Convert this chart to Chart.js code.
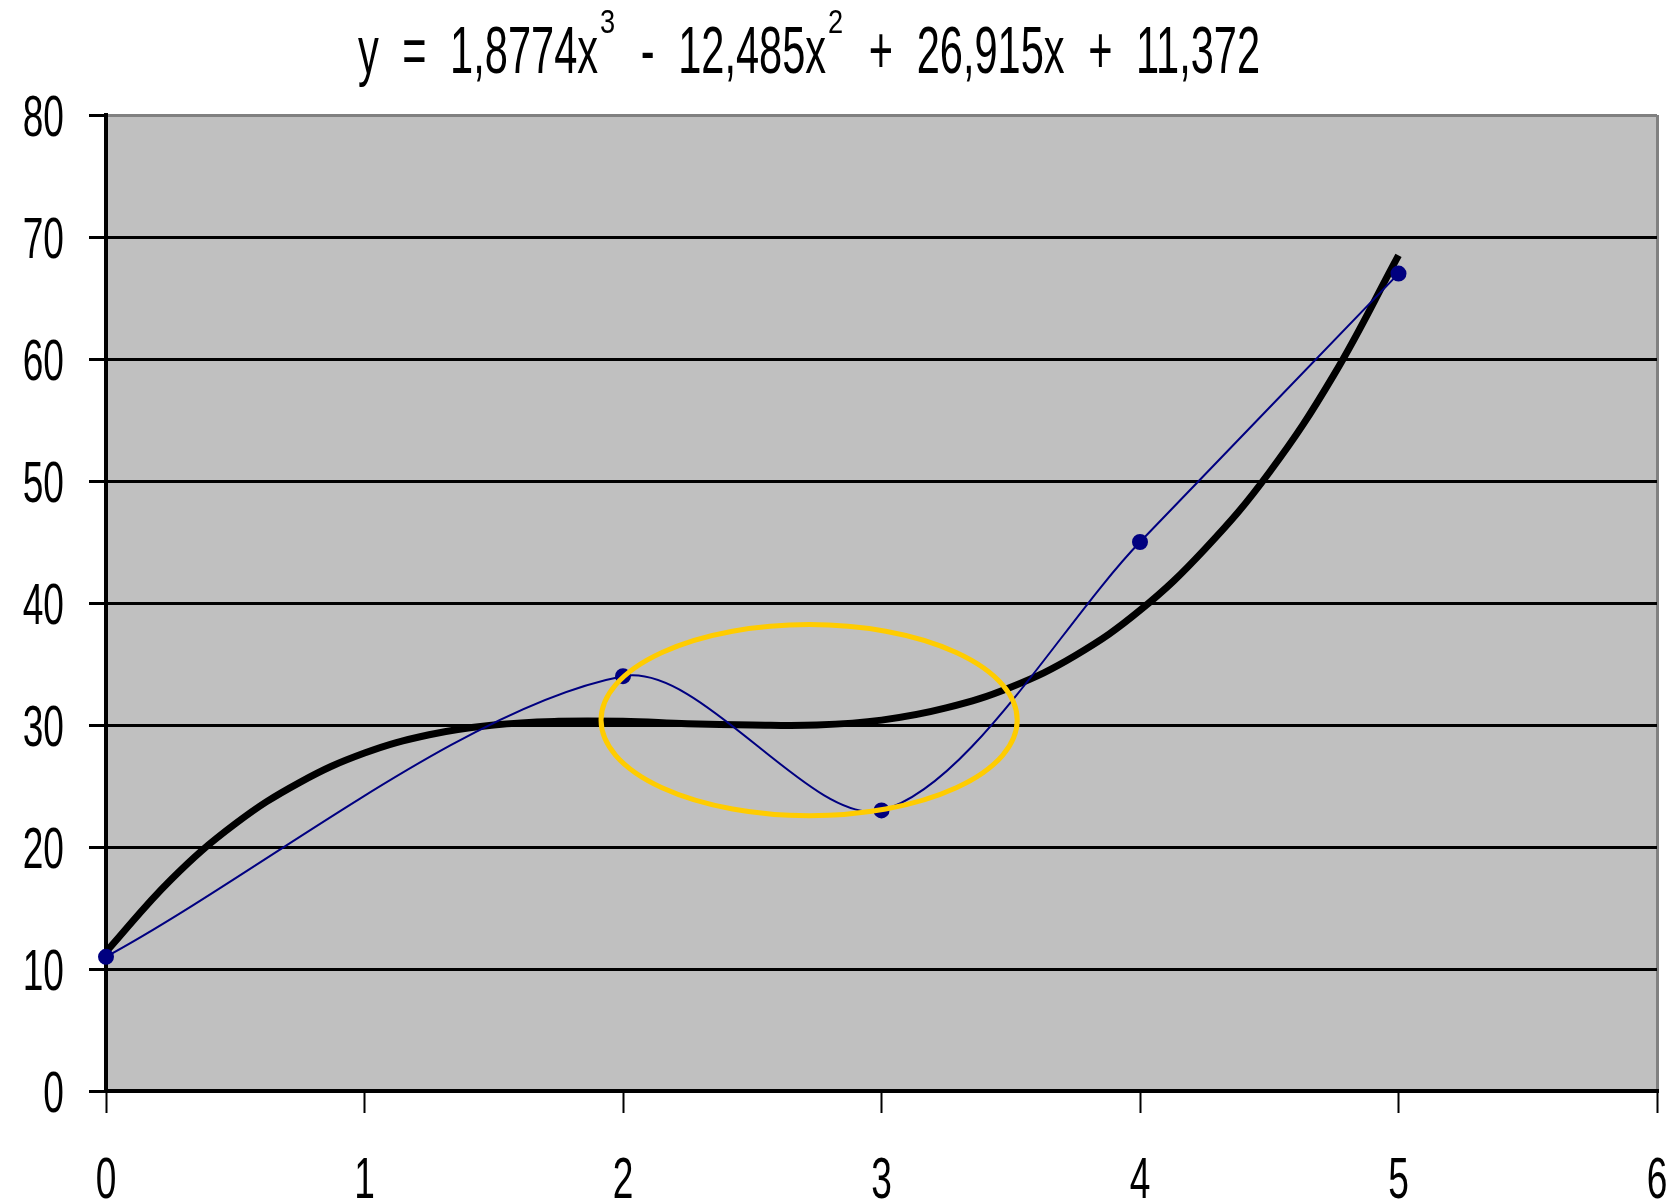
<!DOCTYPE html>
<html>
<head>
<meta charset="utf-8">
<script src="https://cdn.jsdelivr.net/npm/chart.js@4.4.1/dist/chart.umd.min.js"></script>
<style>
  html, body { margin: 0; padding: 0; background: #ffffff; }
  #wrap { width: 1669px; height: 1203px; }
</style>
</head>
<body>
<div id="wrap"><canvas id="c" width="1669" height="1203"></canvas></div>
<script>
// ---- data ----
const pointX = [0, 2, 3, 4, 5];
const pointY = [11, 34, 23, 45, 67];

// polynomial trend line (black)
const trendX = [0, 0.25, 0.5, 0.75, 1, 1.25, 1.5, 1.75, 2, 2.25, 2.5, 2.75, 3, 3.25, 3.5, 3.75, 4, 4.25, 4.5, 4.75, 5];
const trendY = [11.4, 17.3, 21.9, 25.3, 27.7, 29.2, 30.0, 30.3, 30.3, 30.1, 30.0, 30.0, 30.4, 31.4, 33.1, 35.7, 39.4, 44.4, 50.7, 58.7, 68.5];

const xMin = 0, xMax = 6, xStep = 1;
const yMin = 0, yMax = 80, yStep = 10;

const titleParts = [
  { text: 'y = 1,8774x', sup: false },
  { text: '3', sup: true },
  { text: ' - 12,485x', sup: false },
  { text: '2', sup: true },
  { text: ' + 26,915x + 11,372', sup: false }
];

// highlight ellipse (data units)
const ellipseCenter = [2.72, 30.4];
const ellipseRadii = [0.805, 7.83];

const FONT = "'Liberation Sans', Arial, sans-serif";

// ---- plugins ----
const plotBg = {
  id: 'plotBg',
  beforeDraw(chart) {
    const a = chart.chartArea, ctx = chart.ctx;
    ctx.save();
    ctx.fillStyle = '#C0C0C0';
    ctx.fillRect(a.left, a.top, a.right - a.left, a.bottom - a.top);
    ctx.restore();
  }
};

// condensed text drawing helper
function drawCondensed(ctx, text, x, y, size, sx, align) {
  ctx.save();
  ctx.font = size + 'px ' + FONT;
  ctx.textAlign = align;
  ctx.textBaseline = 'alphabetic';
  ctx.translate(x, y);
  ctx.scale(sx, 1);
  ctx.fillText(text, 0, 0);
  ctx.restore();
}

const tickLabelPlugin = {
  id: 'tickLabels',
  afterDraw(chart) {
    const ctx = chart.ctx;
    const size = 58, sx = 0.64, half = 0.358 * size;
    ctx.save();
    ctx.fillStyle = '#000000';
    const ys = chart.scales.y, xs = chart.scales.x;
    ys.ticks.forEach(t => {
      const py = ys.getPixelForValue(t.value);
      drawCondensed(ctx, String(t.label ?? t.value), 64, py + half, size, sx, 'right');
    });
    xs.ticks.forEach(t => {
      const px = xs.getPixelForValue(t.value);
      drawCondensed(ctx, String(t.label ?? t.value), px, 1177 + half, size, sx, 'center');
    });
    ctx.restore();
  }
};

const titlePlugin = {
  id: 'eqTitle',
  afterDraw(chart) {
    const ctx = chart.ctx;
    const main = { size: 66, sx: 0.63, base: 73, ws: 12 };
    const sup = { size: 34, sx: 0.8, base: 33, ws: 0 };
    ctx.save();
    ctx.fillStyle = '#000000';
    ctx.textBaseline = 'alphabetic';
    ctx.textAlign = 'left';
    const items = titleParts.map(p => {
      const st = p.sup ? sup : main;
      ctx.font = st.size + 'px ' + FONT;
      ctx.wordSpacing = (st.ws / st.sx) + 'px';
      const w = ctx.measureText(p.text).width * st.sx;
      return { p, st, w };
    });
    const gap = 2;
    const total = items.reduce((s, it) => s + it.w + gap, 0) - gap;
    let x = 809 - total / 2;
    items.forEach(it => {
      ctx.save();
      ctx.font = it.st.size + 'px ' + FONT;
      ctx.wordSpacing = (it.st.ws / it.st.sx) + 'px';
      ctx.translate(x, it.st.base);
      ctx.scale(it.st.sx, 1);
      ctx.fillText(it.p.text, 0, 0);
      ctx.restore();
      x += it.w + gap;
    });
    ctx.restore();
  }
};

const ellipsePlugin = {
  id: 'ellipse',
  afterDatasetsDraw(chart) {
    const xs = chart.scales.x, ys = chart.scales.y, ctx = chart.ctx;
    const cx = xs.getPixelForValue(ellipseCenter[0]);
    const cy = ys.getPixelForValue(ellipseCenter[1]);
    const rx = Math.abs(xs.getPixelForValue(ellipseCenter[0] + ellipseRadii[0]) - cx);
    const ry = Math.abs(ys.getPixelForValue(ellipseCenter[1] + ellipseRadii[1]) - cy);
    ctx.save();
    ctx.strokeStyle = '#FFCC00';
    ctx.lineWidth = 5;
    ctx.beginPath();
    ctx.ellipse(cx, cy, rx, ry, 0, 0, Math.PI * 2);
    ctx.stroke();
    ctx.restore();
  }
};

new Chart(document.getElementById('c'), {
  type: 'scatter',
  data: {
    datasets: [
      {
        label: 'data',
        data: pointX.map((x, i) => ({ x, y: pointY[i] })),
        showLine: true,
        borderColor: '#000080',
        borderWidth: 2,
        tension: 0.3,
        pointStyle: 'circle',
        pointRadius: 7,
        pointBackgroundColor: '#000080',
        pointBorderColor: '#000080',
        pointBorderWidth: 2,
        clip: false
      },
      {
        label: 'trend',
        data: trendX.map((x, i) => ({ x, y: trendY[i] })),
        showLine: true,
        borderColor: '#000000',
        borderWidth: 7,
        tension: 0.4,
        pointRadius: 0,
        borderCapStyle: 'butt'
      }
    ]
  },
  options: {
    responsive: false,
    animation: false,
    devicePixelRatio: 1,
    layout: { padding: { top: 115, right: 12, bottom: 0, left: 0 } },
    plugins: { legend: { display: false }, tooltip: { enabled: false }, title: { display: false } },
    scales: {
      x: {
        type: 'linear',
        min: xMin, max: xMax,
        ticks: { stepSize: xStep, display: false },
        grid: {
          color: c => (c.tick && c.tick.value === xMax) ? '#808080' : 'rgba(0,0,0,0)',
          lineWidth: 3,
          tickColor: '#000000',
          tickLength: 22,
          tickWidth: 2
        },
        border: { color: '#000000', width: 4 },
        afterFit: s => { s.height = 112; }
      },
      y: {
        type: 'linear',
        min: yMin, max: yMax,
        ticks: { stepSize: yStep, display: false },
        grid: {
          color: c => (c.tick && c.tick.value === yMax) ? '#808080' : '#000000',
          lineWidth: 3,
          tickColor: '#000000',
          tickLength: 17,
          tickWidth: 3
        },
        border: { color: '#000000', width: 4 },
        afterFit: s => { s.width = 106; }
      }
    }
  },
  plugins: [plotBg, ellipsePlugin, tickLabelPlugin, titlePlugin]
});
</script>
</body>
</html>
